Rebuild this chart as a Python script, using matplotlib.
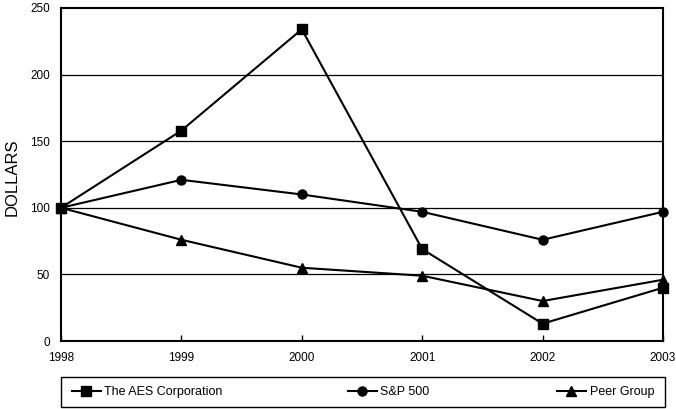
import matplotlib
matplotlib.use("Agg")
import matplotlib.pyplot as plt
from matplotlib.patches import Rectangle

plt.rcParams['font.family'] = ['Liberation Sans', 'DejaVu Sans']

years = [1998, 1999, 2000, 2001, 2002, 2003]
aes = [100, 158, 234, 69, 13, 40]
sp500 = [100, 121, 110, 97, 76, 97]
peer = [100, 76, 55, 49, 30, 46]

series = [
    ("The AES Corporation", aes, "s"),
    ("S&P 500", sp500, "o"),
    ("Peer Group", peer, "^"),
]

fig = plt.figure(figsize=(6.76, 4.09), dpi=100)
ax = fig.add_axes([61 / 676, 1 - 341 / 409, 602 / 676, 333 / 409])

lines = []
for name, vals, mk in series:
    ln, = ax.plot(years, vals, color="black", lw=1.5, marker=mk,
                  markersize=6.5, label=name, clip_on=False, zorder=3)
    lines.append(ln)

ax.set_xlim(1998, 2003)
ax.set_ylim(0, 250)
ax.set_xticks(years)
ax.set_yticks(range(0, 251, 50))
for y in range(50, 250, 50):
    ax.axhline(y, color="black", lw=0.9, zorder=1)

ax.tick_params(axis="x", direction="in", length=4, width=1, pad=8, labelsize=8.5)
ax.tick_params(axis="y", length=0, pad=8, labelsize=8.5)
for sp in ax.spines.values():
    sp.set_linewidth(1.5)

fig.text(12 / 676, 1 - 177 / 409, "DOLLARS", rotation=90, ha="center",
         va="center", fontsize=12)

# legend frame below the chart
fig.patches.append(Rectangle((61 / 676, 1 - 407 / 409), 604 / 676, 30 / 409,
                             transform=fig.transFigure, fill=False,
                             edgecolor="black", lw=1.0))
legend_x = [72, 348, 557]
for ln, lx in zip(lines, legend_x):
    leg = fig.legend(handles=[ln], loc="center left",
                     bbox_to_anchor=(lx / 676, 1 - 392 / 409),
                     frameon=False, fontsize=9, handlelength=2.3,
                     handletextpad=0.3, borderpad=0, borderaxespad=0)

fig.savefig("out.png", dpi=100)
